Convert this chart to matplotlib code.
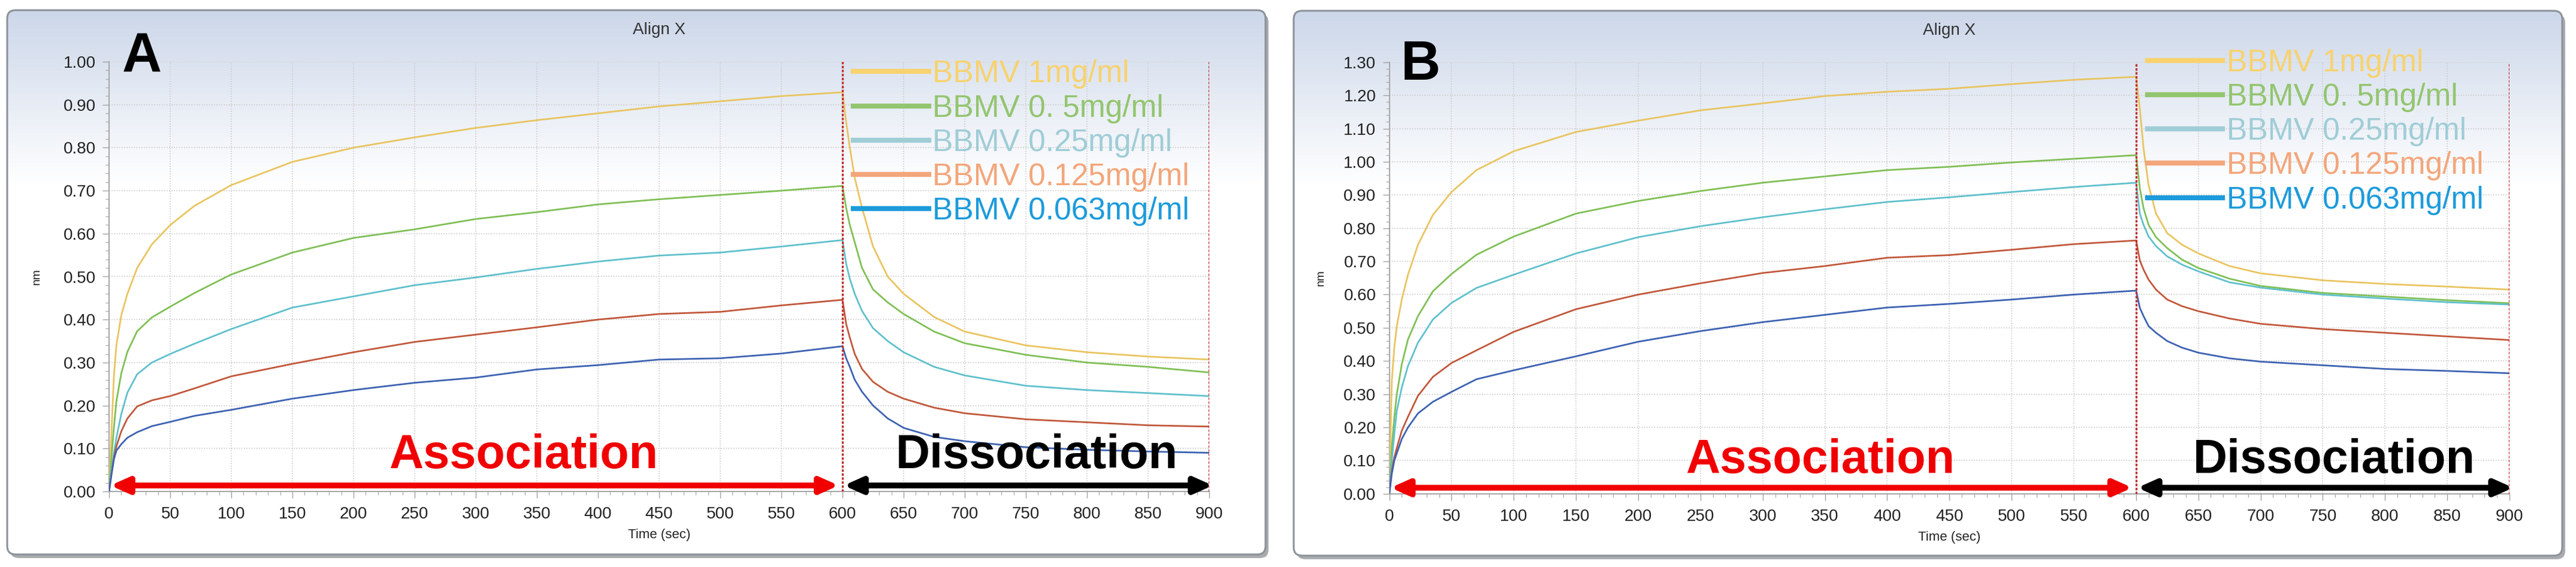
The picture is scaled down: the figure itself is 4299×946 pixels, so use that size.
import numpy as np
import matplotlib
matplotlib.use('Agg')
import matplotlib.pyplot as plt
from matplotlib.patches import FancyBboxPatch
from matplotlib.lines import Line2D
from matplotlib.colors import LinearSegmentedColormap
from matplotlib.ticker import MultipleLocator, FormatStrFormatter

plt.rcParams['font.family'] = ['Liberation Sans', 'DejaVu Sans']

W, H, DPI = 4299, 946, 100

LABELS = ['BBMV 1mg/ml', 'BBMV 0. 5mg/ml', 'BBMV 0.25mg/ml',
          'BBMV 0.125mg/ml', 'BBMV 0.063mg/ml']
LINE_COLORS = ['#E9C45F', '#7FBF55', '#5FC0CC', '#C1573A', '#3D62B2']
LEGEND_COLORS = ['#F7D26E', '#93C56F', '#9FCDD6', '#F3A67B', '#1C9BDB']

# time points (sec)
T_ASSOC = [0, 2, 4, 6, 10, 15, 23, 35, 50, 70, 100, 150, 200, 250, 300,
           350, 400, 450, 500, 550, 600]
T_DISS = [600, 603, 606, 610, 616, 625, 637, 650, 675, 700, 750, 800, 850, 900]

# panel A, response in nm (rows: 1, 0.5, 0.25, 0.125, 0.063 mg/ml)
A_ASSOC = [
    [0, 0.14, 0.27, 0.34, 0.41, 0.46, 0.52, 0.575, 0.62, 0.665, 0.713, 0.767,
     0.80, 0.824, 0.846, 0.864, 0.88, 0.896, 0.908, 0.92, 0.929],
    [0, 0.08, 0.15, 0.21, 0.275, 0.325, 0.373, 0.405, 0.43, 0.462, 0.505, 0.556,
     0.59, 0.61, 0.634, 0.65, 0.668, 0.68, 0.69, 0.70, 0.711],
    [0, 0.05, 0.09, 0.125, 0.18, 0.23, 0.273, 0.30, 0.32, 0.344, 0.378, 0.428,
     0.454, 0.48, 0.498, 0.518, 0.535, 0.549, 0.556, 0.57, 0.585],
    [0, 0.04, 0.08, 0.105, 0.14, 0.17, 0.198, 0.212, 0.222, 0.24, 0.268, 0.297,
     0.324, 0.348, 0.365, 0.382, 0.40, 0.413, 0.418, 0.433, 0.446],
    [0, 0.04, 0.075, 0.095, 0.11, 0.125, 0.138, 0.152, 0.162, 0.176, 0.19, 0.216,
     0.236, 0.253, 0.265, 0.284, 0.294, 0.307, 0.31, 0.321, 0.338],
]
A_DISS = [
    [0.929, 0.86, 0.80, 0.73, 0.66, 0.57, 0.50, 0.46, 0.406, 0.372, 0.34, 0.324, 0.314, 0.307],
    [0.711, 0.66, 0.62, 0.58, 0.52, 0.47, 0.44, 0.413, 0.372, 0.345, 0.318, 0.30, 0.29, 0.277],
    [0.585, 0.53, 0.495, 0.46, 0.42, 0.38, 0.35, 0.324, 0.29, 0.27, 0.246, 0.236, 0.229, 0.222],
    [0.446, 0.39, 0.358, 0.32, 0.285, 0.255, 0.232, 0.216, 0.195, 0.182, 0.168, 0.161, 0.154, 0.151],
    [0.338, 0.31, 0.29, 0.26, 0.232, 0.20, 0.17, 0.148, 0.127, 0.117, 0.103, 0.097, 0.093, 0.09],
]

# panel B
B_ASSOC = [
    [0, 0.34, 0.44, 0.505, 0.585, 0.66, 0.75, 0.84, 0.909, 0.975, 1.032, 1.09,
     1.124, 1.155, 1.176, 1.198, 1.211, 1.22, 1.234, 1.247, 1.256],
    [0, 0.14, 0.23, 0.30, 0.39, 0.465, 0.535, 0.61, 0.662, 0.72, 0.775, 0.844,
     0.882, 0.912, 0.937, 0.956, 0.975, 0.985, 0.998, 1.009, 1.02],
    [0, 0.10, 0.18, 0.25, 0.32, 0.385, 0.455, 0.525, 0.575, 0.62, 0.66, 0.724,
     0.773, 0.806, 0.833, 0.857, 0.879, 0.893, 0.909, 0.924, 0.937],
    [0, 0.07, 0.11, 0.138, 0.19, 0.232, 0.295, 0.352, 0.394, 0.432, 0.488, 0.556,
     0.60, 0.634, 0.665, 0.686, 0.711, 0.719, 0.735, 0.752, 0.763],
    [0, 0.06, 0.10, 0.122, 0.165, 0.20, 0.242, 0.277, 0.307, 0.345, 0.372, 0.414,
     0.458, 0.49, 0.517, 0.539, 0.561, 0.572, 0.585, 0.60, 0.612],
]
B_DISS = [
    [1.256, 1.16, 1.04, 0.93, 0.844, 0.785, 0.75, 0.724, 0.686, 0.664, 0.643, 0.632, 0.624, 0.615],
    [1.02, 0.92, 0.86, 0.81, 0.773, 0.74, 0.705, 0.68, 0.648, 0.626, 0.605, 0.594, 0.583, 0.574],
    [0.937, 0.844, 0.81, 0.775, 0.746, 0.715, 0.69, 0.67, 0.637, 0.621, 0.60, 0.588, 0.577, 0.57],
    [0.763, 0.703, 0.675, 0.645, 0.615, 0.585, 0.565, 0.55, 0.528, 0.512, 0.496, 0.485, 0.474, 0.463],
    [0.612, 0.56, 0.535, 0.505, 0.485, 0.46, 0.44, 0.425, 0.408, 0.398, 0.387, 0.376, 0.37, 0.363],
]

fig = plt.figure(figsize=(W / DPI, H / DPI), dpi=DPI)

# panel frames with a soft blue gradient on top
bg = fig.add_axes([0, 0, 1, 1], zorder=-10)
grad = np.linspace(0, 1, 256)[:, None]
bg_cmap = LinearSegmentedColormap.from_list(
    'bg', [(0, '#CCD7E9'), (0.32, '#FFFFFF'), (1, '#FFFFFF')])
for x0, y0, x1, y1 in [(12, 17, 2112, 925), (2159, 18, 4276, 927)]:
    shadow = FancyBboxPatch((x0 + 5, y0 + 6), x1 - x0, y1 - y0,
                            boxstyle='round,pad=0,rounding_size=14',
                            fc='#A9ABAE', ec='none')
    bg.add_patch(shadow)
    frame = FancyBboxPatch((x0, y0), x1 - x0, y1 - y0,
                           boxstyle='round,pad=0,rounding_size=14',
                           fc='white', ec='#8C929A', lw=2.2, zorder=3)
    bg.add_patch(frame)
    im = bg.imshow(grad, extent=(x0, x1, y1, y0), cmap=bg_cmap,
                   aspect='auto', zorder=2)
    im.set_clip_path(frame)
bg.set_xlim(0, W)
bg.set_ylim(H, 0)
bg.axis('off')
for p in bg.patches:
    if p.get_zorder() == 3:
        p.set_facecolor('none')


def draw_panel(rect, assoc, diss, ymax, letter, letter_pos, text_y, assoc_x,
               legend_top, label_x):
    ax = fig.add_axes(rect)
    ax.set_facecolor('none')
    for i in range(5):
        t = T_ASSOC + T_DISS[1:]
        v = assoc[i] + diss[i][1:]
        ax.plot(t, v, color=LINE_COLORS[i], lw=2.0, zorder=3)

    ax.set_xlim(0, 900)
    ax.set_ylim(0, ymax)
    ax.xaxis.set_major_locator(MultipleLocator(50))
    ax.xaxis.set_minor_locator(MultipleLocator(10))
    ax.yaxis.set_major_locator(MultipleLocator(0.1))
    ax.yaxis.set_minor_locator(MultipleLocator(0.02))
    ax.yaxis.set_major_formatter(FormatStrFormatter('%.2f'))
    ax.tick_params(which='major', length=8, width=1, color='#A0A0A0',
                   labelsize=20, pad=8, labelcolor='#222222')
    ax.tick_params(which='minor', length=4, width=1, color='#B0B0B0')
    ax.tick_params(axis='x', which='major', pad=10)
    ax.grid(True, which='major', color='#C9C9C9', ls=(0, (1, 1.5)), lw=1.2)
    for side in ['top', 'right']:
        ax.spines[side].set_visible(False)
    for side in ['left', 'bottom']:
        ax.spines[side].set_color('#A8A8A8')
        ax.spines[side].set_linewidth(1.5)

    ax.set_xlabel('Time (sec)', fontsize=16, labelpad=8, color='#222222')
    ax.set_ylabel('nm', fontsize=14, color='#222222')
    ax.yaxis.set_label_coords(label_x, 0.5)
    ax.text(0.5, 1.074, 'Align X', transform=ax.transAxes, ha='center',
            va='center', fontsize=20, color='#333333')

    for xv in [600, 900]:
        ax.axvline(xv, color='#C22E2E', ls=(0, (1.2, 0.8)), lw=2.4, zorder=4)

    arrow_y = 0.014 * ymax
    ax.annotate('', xy=(1, arrow_y), xytext=(597, arrow_y),
                arrowprops=dict(arrowstyle='<|-|>,head_length=1.8,head_width=0.8',
                                color='#F00000', lw=7, shrinkA=0, shrinkB=0,
                                mutation_scale=10), annotation_clip=False)
    ax.annotate('', xy=(601, arrow_y), xytext=(903, arrow_y),
                arrowprops=dict(arrowstyle='<|-|>,head_length=1.8,head_width=0.8',
                                color='black', lw=7, shrinkA=0, shrinkB=0,
                                mutation_scale=10), annotation_clip=False)
    ax.text(assoc_x, text_y, 'Association', color='#F00000', fontsize=57,
            fontweight='bold', ha='center', va='center')
    ax.text(759, text_y, 'Dissociation', color='black', fontsize=57,
            fontweight='bold', ha='center', va='center')
    ax.text(letter_pos[0], letter_pos[1], letter, fontsize=66,
            fontweight='bold', ha='center', va='center')

    handles = [Line2D([], [], color=c, lw=6) for c in LEGEND_COLORS]
    ax.legend(handles, LABELS, loc='upper left',
              bbox_to_anchor=(609 / 900, legend_top), frameon=False,
              fontsize=37, labelcolor=LEGEND_COLORS, handlelength=2.45,
              handletextpad=0.12, labelspacing=0.16, borderpad=0,
              borderaxespad=0)
    return ax


draw_panel([182 / W, 1 - 820 / H, 1836 / W, 717 / H], A_ASSOC, A_DISS, 1.0,
           'A', (27, 1.011), 0.083, 339, 1.005, -112 / 1836)
draw_panel([2318.6 / W, 1 - 823.8 / H, 1869.4 / W, 720 / H], B_ASSOC, B_DISS, 1.3,
           'B', (25, 1.291), 0.1007, 346, 1.032, -106 / 1869)

fig.savefig('out.png', dpi=DPI)
